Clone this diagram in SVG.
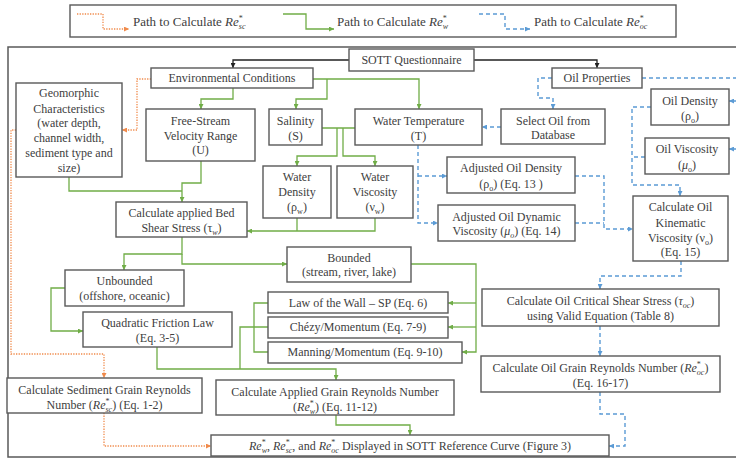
<svg xmlns="http://www.w3.org/2000/svg" width="736" height="459" viewBox="0 0 736 459">
<style>
text{font-family:"Liberation Serif","Times New Roman",serif;font-size:12px;fill:#404040;text-anchor:middle}
.box{fill:#fff;stroke:#595959;stroke-width:1.4}
.g{fill:none;stroke:#70ad47;stroke-width:1.3}
.o{fill:none;stroke:#f08a4b;stroke-width:1.3;stroke-dasharray:1.3 1.3}
.b{fill:none;stroke:#5b9bd5;stroke-width:1.4;stroke-dasharray:4 3}
.k{fill:none;stroke:#222;stroke-width:1.3}
.s{font-size:8px}
.i{font-style:italic}
.lg{text-anchor:start;font-size:13px}
</style>
<defs>
<marker id="ag" viewBox="0 0 6 6" refX="6" refY="3" markerWidth="5" markerHeight="5" orient="auto" markerUnits="userSpaceOnUse"><path d="M0,0L6,3L0,6z" fill="#70ad47"/></marker>
<marker id="ao" viewBox="0 0 6 6" refX="6" refY="3" markerWidth="5" markerHeight="5" orient="auto" markerUnits="userSpaceOnUse"><path d="M0,0L6,3L0,6z" fill="#f08a4b"/></marker>
<marker id="ab" viewBox="0 0 6 6" refX="6" refY="3" markerWidth="5" markerHeight="5" orient="auto" markerUnits="userSpaceOnUse"><path d="M0,0L6,3L0,6z" fill="#5b9bd5"/></marker>
<marker id="ak" viewBox="0 0 6 6" refX="6" refY="3" markerWidth="5" markerHeight="5" orient="auto" markerUnits="userSpaceOnUse"><path d="M0,0L6,3L0,6z" fill="#222"/></marker>
</defs>
<rect width="736" height="459" fill="#fff"/>
<g id="legend">
<rect x="70" y="5" width="606" height="32" fill="#fff" stroke="#595959" stroke-width="1.4"/>
<path class="o" d="M77,14H103V29H129" marker-end="url(#ao)"/>
<text class="lg" x="133" y="26">Path to Calculate <tspan class="i">Re</tspan><tspan class="s" dy="-5">*</tspan><tspan class="s i" dx="-4" dy="8">sc</tspan></text>
<path class="g" d="M283,14H306V29H334" marker-end="url(#ag)"/>
<text class="lg" x="337" y="26">Path to Calculate <tspan class="i">Re</tspan><tspan class="s" dy="-5">*</tspan><tspan class="s i" dx="-4" dy="8">w</tspan></text>
<path class="b" d="M479,14H505V29H530" marker-end="url(#ab)"/>
<text class="lg" x="534" y="26">Path to Calculate <tspan class="i">Re</tspan><tspan class="s" dy="-5">*</tspan><tspan class="s i" dx="-4" dy="8">oc</tspan></text>
</g>
<rect id="frame" x="8" y="47" width="740" height="410" fill="none" stroke="#595959" stroke-width="1.5"/>
<g id="connectors">
<path class="k" d="M349,60H233V68" marker-end="url(#ak)"/>
<path class="k" d="M474,60H597V68" marker-end="url(#ak)"/>
<path class="o" d="M151,79H137V130H122" marker-end="url(#ao)"/>
<path class="o" d="M16,130H11V354H104V378" marker-end="url(#ao)"/>
<path class="o" d="M104,413V446H211" marker-end="url(#ao)"/>
<path class="g" d="M233,88V99H201V109" marker-end="url(#ag)"/>
<path class="g" d="M313,79H419V109" marker-end="url(#ag)"/>
<path class="g" d="M327,79V99H296V109" marker-end="url(#ag)"/>
<path class="g" d="M322,128H355"/>
<path class="g" d="M337,128V156H297V166" marker-end="url(#ag)"/>
<path class="g" d="M343,128V156H375V166" marker-end="url(#ag)"/>
<path class="g" d="M201,161V183H182V202" marker-end="url(#ag)"/>
<path class="g" d="M69,177V191H182"/>
<path class="g" d="M297,218V231"/>
<path class="g" d="M375,218V231H247" marker-end="url(#ag)"/>
<path class="g" d="M182,237V254H124V270" marker-end="url(#ag)"/>
<path class="g" d="M182,254V264H287" marker-end="url(#ag)"/>
<path class="g" d="M65,288H51V331H83" marker-end="url(#ag)"/>
<path class="g" d="M411,264H476V352H462" marker-end="url(#ag)"/>
<path class="g" d="M476,303H448" marker-end="url(#ag)"/>
<path class="g" d="M476,327H448" marker-end="url(#ag)"/>
<path class="g" d="M268,303H254V352H268"/>
<path class="g" d="M268,327H240V369"/>
<path class="g" d="M157,347V369H336V380" marker-end="url(#ag)"/>
<path class="g" d="M336,415V425H410V435" marker-end="url(#ag)"/>
<path class="b" d="M552,78H538V98H553V109" marker-end="url(#ab)"/>
<path class="b" d="M501,127H482" marker-end="url(#ab)"/>
<path class="b" d="M642,78H745V149"/>
<path class="b" d="M745,101H729" marker-end="url(#ab)"/>
<path class="b" d="M745,149H729" marker-end="url(#ab)"/>
<path class="b" d="M651,107H632V185H680V196" marker-end="url(#ab)"/>
<path class="b" d="M645,157H632"/>
<path class="b" d="M418,145V223H438" marker-end="url(#ab)"/>
<path class="b" d="M418,176H447" marker-end="url(#ab)"/>
<path class="b" d="M575,176H604V229H633" marker-end="url(#ab)"/>
<path class="b" d="M575,223H604"/>
<path class="b" d="M681,261V276H600V289" marker-end="url(#ab)"/>
<path class="b" d="M600,326V356" marker-end="url(#ab)"/>
<path class="b" d="M600,392V414H625V446H609" marker-end="url(#ab)"/>
</g>
<g id="sott"><rect class="box" x="349" y="49" width="125" height="22"/><text x="411.5" y="64">SOTT Questionnaire</text></g>
<g id="env"><rect class="box" x="151" y="68" width="162" height="20"/><text x="232" y="82">Environmental Conditions</text></g>
<g id="oilprop"><rect class="box" x="552" y="68" width="90" height="20"/><text x="597" y="82">Oil Properties</text></g>
<g id="geo"><rect class="box" x="16" y="83" width="106" height="94"/>
<text x="69" y="97">Geomorphic</text><text x="69" y="113">Characteristics</text><text x="69" y="127">(water depth,</text><text x="69" y="142">channel width,</text><text x="69" y="157">sediment type and</text><text x="69" y="172">size)</text></g>
<g id="fsv"><rect class="box" x="146" y="109" width="109" height="52"/>
<text x="200.5" y="125">Free-Stream</text><text x="200.5" y="140">Velocity Range</text><text x="200.5" y="154">(U)</text></g>
<g id="sal"><rect class="box" x="269" y="109" width="53" height="36"/><text x="295.5" y="125">Salinity</text><text x="295.5" y="140">(S)</text></g>
<g id="wt"><rect class="box" x="355" y="109" width="127" height="36"/><text x="418.5" y="125">Water Temperature</text><text x="418.5" y="140">(T)</text></g>
<g id="sel"><rect class="box" x="501" y="109" width="104" height="35"/><text x="553" y="125">Select Oil from</text><text x="553" y="139">Database</text></g>
<g id="oild"><rect class="box" x="651" y="89" width="78" height="36"/><text x="690" y="105">Oil Density</text><text x="690" y="120">(ρ<tspan class="s" dy="3">o</tspan><tspan dy="-3">)</tspan></text></g>
<g id="oilv"><rect class="box" x="645" y="138" width="84" height="36"/><text x="687" y="153">Oil Viscosity</text><text x="687" y="169">(<tspan class="i">μ</tspan><tspan class="s" dy="3">o</tspan><tspan dy="-3">)</tspan></text></g>
<g id="wd"><rect class="box" x="263" y="166" width="68" height="52"/><text x="297" y="181">Water</text><text x="297" y="196">Density</text><text x="297" y="211">(ρ<tspan class="s" dy="3">w</tspan><tspan dy="-3">)</tspan></text></g>
<g id="wv"><rect class="box" x="337" y="166" width="76" height="52"/><text x="375" y="181">Water</text><text x="375" y="196">Viscosity</text><text x="375" y="211">(ν<tspan class="s" dy="3">w</tspan><tspan dy="-3">)</tspan></text></g>
<g id="aod"><rect class="box" x="447" y="157" width="128" height="36"/><text x="511" y="172">Adjusted Oil Density</text><text x="511" y="188">(ρ<tspan class="s" dy="3">o</tspan><tspan dy="-3">) (Eq. 13 )</tspan></text></g>
<g id="aov"><rect class="box" x="438" y="205" width="137" height="36"/><text x="506.5" y="221">Adjusted Oil Dynamic</text><text x="506.5" y="235">Viscosity  (<tspan class="i">μ</tspan><tspan class="s i" dy="3">o</tspan><tspan dy="-3">) (Eq. 14)</tspan></text></g>
<g id="kin"><rect class="box" x="633" y="196" width="95" height="65"/><text x="680.5" y="211">Calculate Oil</text><text x="680.5" y="227">Kinematic</text><text x="680.5" y="242">Viscosity  (ν<tspan class="s" dy="3">o</tspan><tspan dy="-3">)</tspan></text><text x="680.5" y="256">(Eq. 15)</text></g>
<g id="bed"><rect class="box" x="116" y="202" width="131" height="35"/><text x="181.5" y="217">Calculate applied Bed</text><text x="181.5" y="232">Shear Stress (τ<tspan class="s i" dy="3">w</tspan><tspan dy="-3">)</tspan></text></g>
<g id="bnd"><rect class="box" x="287" y="247" width="124" height="35"/><text x="349" y="262">Bounded</text><text x="349" y="276">(stream, river, lake)</text></g>
<g id="unb"><rect class="box" x="65" y="270" width="119" height="36"/><text x="124.5" y="285">Unbounded</text><text x="124.5" y="300">(offshore, oceanic)</text></g>
<g id="quad"><rect class="box" x="83" y="312" width="149" height="35"/><text x="157.5" y="327">Quadratic Friction Law</text><text x="157.5" y="342">(Eq. 3-5)</text></g>
<g id="law"><rect class="box" x="268" y="292" width="180" height="21"/><text x="358" y="307">Law of the Wall – SP (Eq. 6)</text></g>
<g id="chezy"><rect class="box" x="268" y="317" width="180" height="21"/><text x="358" y="331">Chézy/Momentum (Eq. 7-9)</text></g>
<g id="man"><rect class="box" x="268" y="342" width="194" height="21"/><text x="365" y="356">Manning/Momentum (Eq. 9-10)</text></g>
<g id="crit"><rect class="box" x="482" y="289" width="237" height="37"/><text x="600.5" y="305">Calculate Oil Critical Shear Stress (<tspan class="i">τ</tspan><tspan class="s i" dy="3">oc</tspan><tspan dy="-3">)</tspan></text><text x="600.5" y="320">using Valid Equation (Table 8)</text></g>
<g id="grain"><rect class="box" x="481" y="356" width="239" height="36"/><text x="600.5" y="372">Calculate Oil Grain Reynolds Number (<tspan class="i">Re</tspan><tspan class="s" dy="-5">*</tspan><tspan class="s i" dx="-4" dy="8">oc</tspan><tspan dy="-3">)</tspan></text><text x="600.5" y="387">(Eq. 16-17)</text></g>
<g id="sed"><rect class="box" x="7" y="378" width="195" height="35"/><text x="104.5" y="394">Calculate Sediment Grain Reynolds</text><text x="104.5" y="409">Number (<tspan class="i">Re</tspan><tspan class="s" dy="-5">*</tspan><tspan class="s i" dx="-4" dy="8">sc</tspan><tspan dy="-3">) (Eq. 1-2)</tspan></text></g>
<g id="app"><rect class="box" x="216" y="380" width="238" height="35"/><text x="335" y="396">Calculate Applied Grain Reynolds Number</text><text x="335" y="411">(<tspan class="i">Re</tspan><tspan class="s" dy="-5">*</tspan><tspan class="s i" dx="-4" dy="8">w</tspan><tspan dy="-3">) (Eq. 11-12)</tspan></text></g>
<g id="fin"><rect class="box" x="211" y="435" width="398" height="21"/><text x="410" y="450"><tspan class="i">Re</tspan><tspan class="s" dy="-5">*</tspan><tspan class="s i" dx="-4" dy="8">w</tspan><tspan dy="-3">, </tspan><tspan class="i">Re</tspan><tspan class="s" dy="-5">*</tspan><tspan class="s i" dx="-4" dy="8">sc</tspan><tspan dy="-3">, and </tspan><tspan class="i">Re</tspan><tspan class="s" dy="-5">*</tspan><tspan class="s i" dx="-4" dy="8">oc</tspan><tspan dy="-3"> Displayed in SOTT Reference Curve (Figure 3)</tspan></text></g>
</svg>
